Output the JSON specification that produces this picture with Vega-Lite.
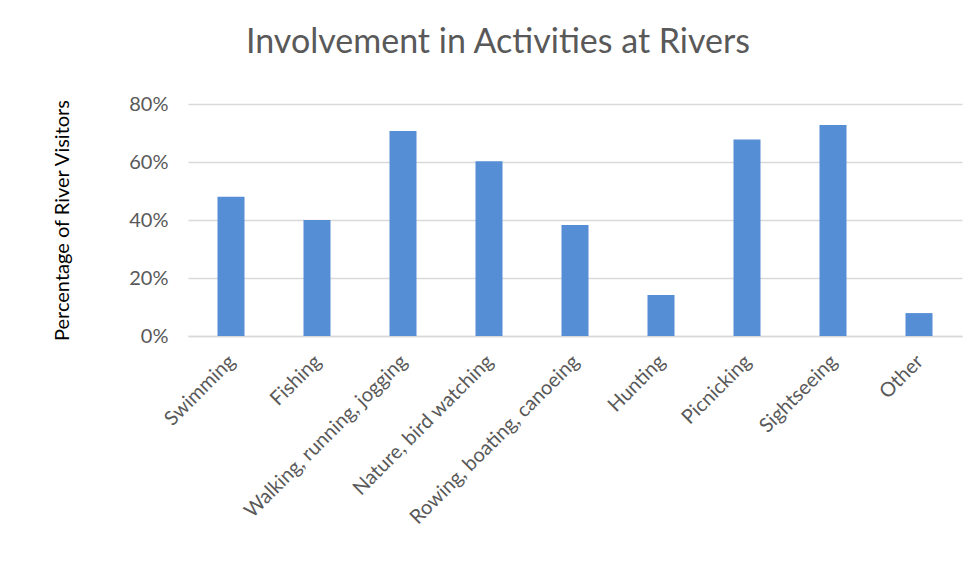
{
  "$schema": "https://vega.github.io/schema/vega-lite/v6.json",
  "autosize": "none",
  "width": 774,
  "height": 232,
  "padding": {"left": 188, "top": 104, "right": 17, "bottom": 234},
  "background": "white",
  "title": {
    "text": "Involvement in Activities at Rivers",
    "font": "Lato",
    "fontSize": 34,
    "fontWeight": "normal",
    "color": "#595959",
    "anchor": "middle",
    "dx": -77,
    "offset": 34
  },
  "data": {
    "values": [
      {"activity": "Swimming", "pct": 0.48},
      {"activity": "Fishing", "pct": 0.40},
      {"activity": "Walking, running, jogging", "pct": 0.707},
      {"activity": "Nature, bird watching", "pct": 0.603},
      {"activity": "Rowing, boating, canoeing", "pct": 0.383},
      {"activity": "Hunting", "pct": 0.141},
      {"activity": "Picnicking", "pct": 0.678},
      {"activity": "Sightseeing", "pct": 0.728},
      {"activity": "Other", "pct": 0.079}
    ]
  },
  "mark": {"type": "bar", "color": "#558ED5"},
  "encoding": {
    "x": {
      "field": "activity",
      "type": "nominal",
      "sort": null,
      "scale": {"paddingInner": 0.686, "paddingOuter": 0.343},
      "axis": {
        "title": null,
        "labelAngle": -45,
        "labelFont": "Lato",
        "labelFontSize": 20,
        "labelColor": "#595959",
        "labelPadding": 15,
        "labelOffset": -6,
        "ticks": false,
        "domainColor": "#D9D9D9",
        "domainWidth": 1.5,
        "labelLimit": 400
      }
    },
    "y": {
      "field": "pct",
      "type": "quantitative",
      "scale": {"domain": [0, 0.8]},
      "axis": {
        "title": "Percentage of River Visitors",
        "titleFont": "Lato",
        "titleFontSize": 20,
        "titleFontWeight": "normal",
        "titleColor": "#000000",
        "titlePadding": 56,
        "format": ".0%",
        "values": [0, 0.2, 0.4, 0.6, 0.8],
        "labelFont": "Lato",
        "labelFontSize": 20,
        "labelColor": "#595959",
        "labelPadding": 20,
        "ticks": false,
        "domain": false,
        "gridColor": "#D9D9D9",
        "gridWidth": 1.5
      }
    }
  },
  "config": {"view": {"stroke": null}}
}
